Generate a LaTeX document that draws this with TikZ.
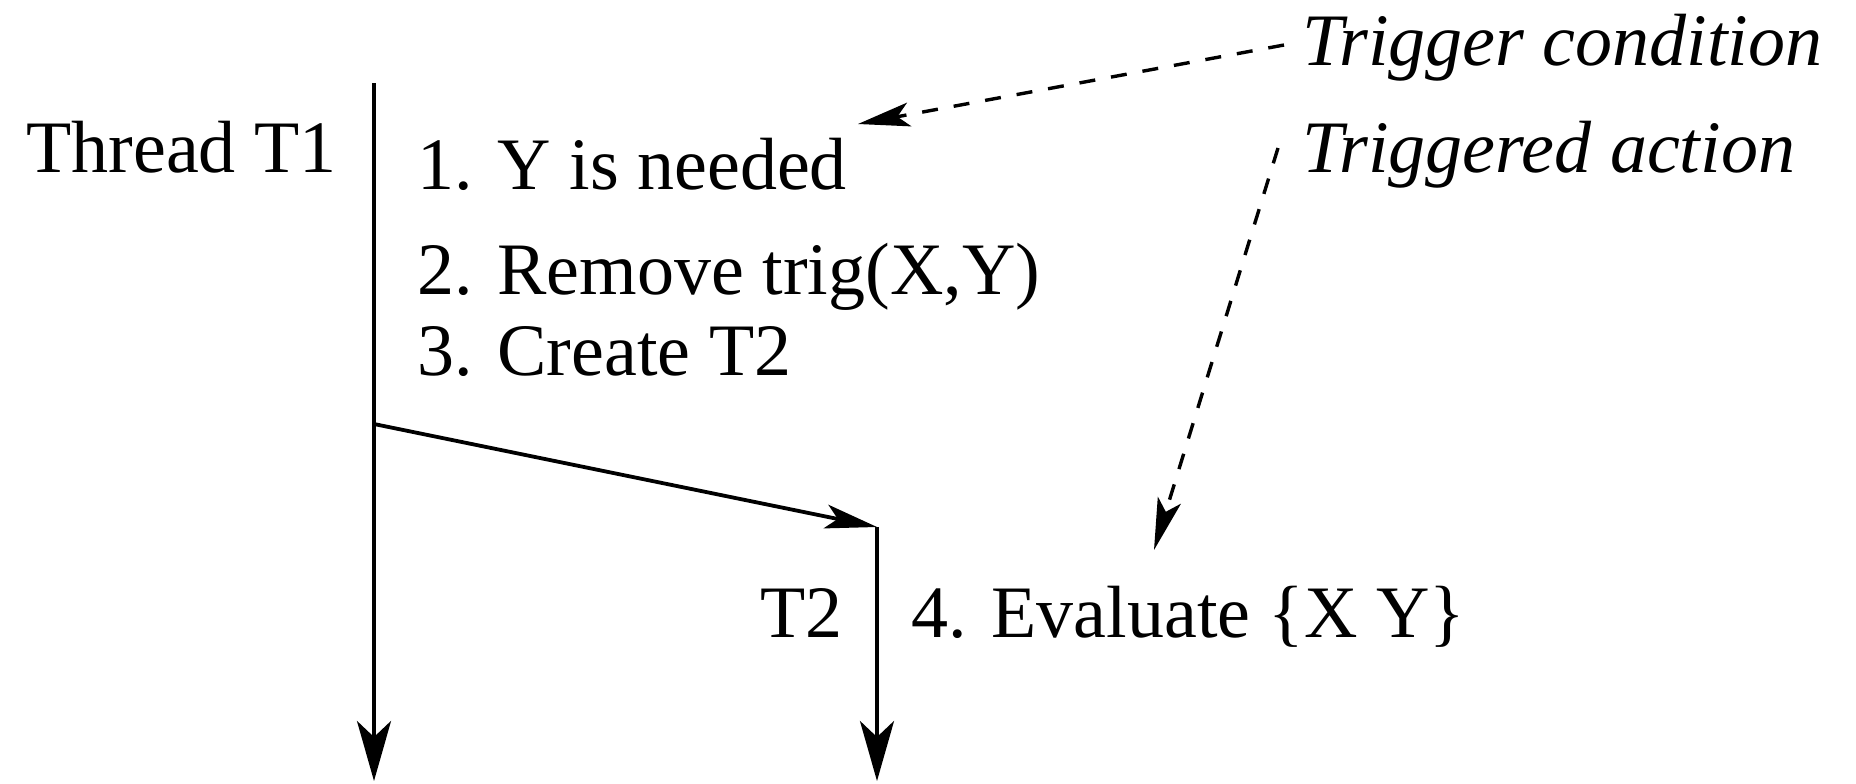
\documentclass[tikz,border=0pt]{standalone}
\usepackage{fontspec}
\setmainfont{Liberation Serif}
\usetikzlibrary{arrows.meta}
\begin{document}
\begin{tikzpicture}[x=0.5pt,y=-0.5pt,
  lbl/.style={inner sep=0pt, font=\fontsize{37}{44}\selectfont},
  ilbl/.style={inner sep=0pt, font=\fontsize{37}{44}\selectfont\itshape},
  thread/.style={line width=1.9pt, -{Stealth[length=30pt,width=17pt,inset=8pt]}},
  spawn/.style={line width=1.9pt, -{Stealth[length=26pt,width=12pt,inset=6pt]}},
  trig/.style={line width=1.7pt, dash pattern=on 8pt off 8pt, -{Stealth[length=26pt,width=12pt,inset=6pt]}}]
\useasboundingbox (0,0) rectangle (1856,783);
% texts
\node[lbl, anchor=base west] (t1lbl) at (26,172) {Thread T1};
\node[lbl, anchor=base west] (s1) at (417,189) {1. Y is needed};
\node[lbl, anchor=base west] (s2) at (417,294) {2. Remove trig(X,Y)};
\node[lbl, anchor=base west] (s3) at (417,375) {3. Create T2};
\node[lbl, anchor=base east] (t2lbl) at (843,637) {T2};
\node[lbl, anchor=base west] (s4) at (911,637) {4. Evaluate \{X Y\}};
\node[ilbl, anchor=base west] (tc) at (1302,65) {Trigger condition};
\node[ilbl, anchor=base west] (ta) at (1302,172) {Triggered action};
% coordinates
\coordinate (t1top) at (374,83);
\coordinate (t1bot) at (374,781);
\coordinate (fork) at (374,424);
\coordinate (t2top) at (877,527);
\coordinate (t2bot) at (877,781);
\coordinate (tcend) at (1284,45);
\coordinate (tctip) at (858,124);
\coordinate (taend) at (1278,148);
\coordinate (tatip) at (1154,550);
% threads
\draw[thread] (t1top) -- (t1bot);
\draw[spawn] (fork) -- (t2top);
\draw[thread] (t2top) -- (t2bot);
% triggers
\draw[trig] (tcend) -- (tctip);
\draw[trig] (taend) -- (tatip);
\end{tikzpicture}
\end{document}
